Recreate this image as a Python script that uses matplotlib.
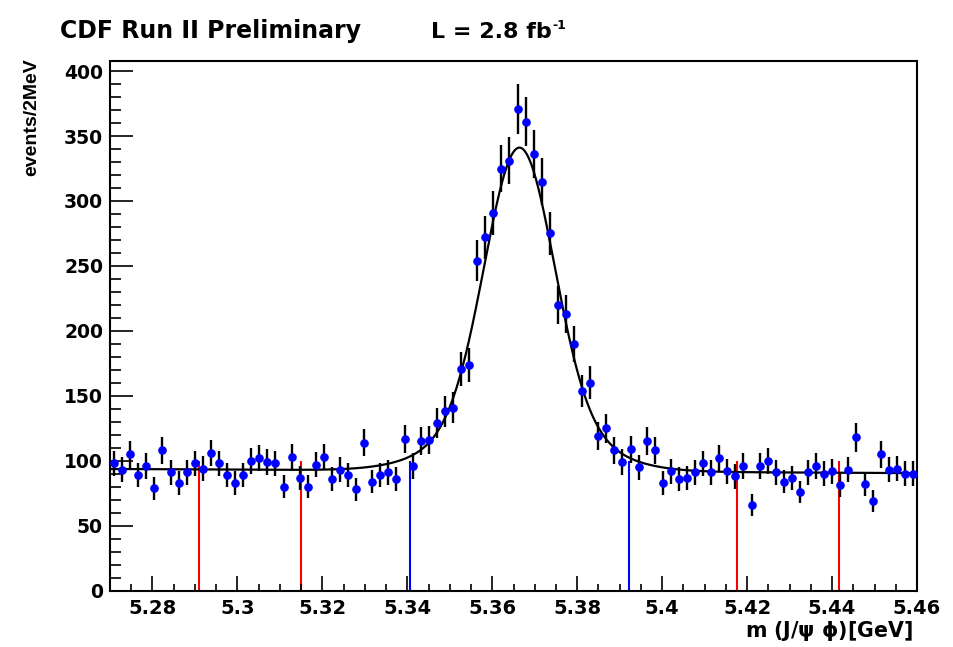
import numpy as np
import matplotlib.pyplot as plt
from matplotlib.ticker import MultipleLocator

plt.rcParams['font.family'] = 'DejaVu Sans'
plt.rcParams['font.weight'] = 'bold'
plt.rcParams['mathtext.default'] = 'bf'

# histogram: 100 bins between 5.27 and 5.46 GeV
m_lo = 5.27
m_hi = 5.46
nbins = 100
counts = [98, 93, 105, 89, 96, 79, 108, 91, 83, 91,
          98, 94, 106, 98, 89, 83, 89, 100, 102, 99,
          98, 80, 103, 87, 80, 97, 103, 86, 93, 89,
          78, 114, 84, 89, 91, 86, 117, 96, 115, 116,
          129, 138, 141, 171, 174, 254, 272, 291, 325, 331,
          371, 361, 336, 315, 275, 220, 213, 190, 154, 160,
          119, 125, 108, 99, 109, 95, 115, 108, 83, 92,
          86, 87, 91, 98, 91, 102, 92, 88, 96, 66,
          96, 100, 91, 84, 87, 76, 91, 96, 90, 92,
          81, 93, 118, 82, 69, 105, 93, 94, 90, 90]

# fit: double gaussian + linear background (parameters)
fit_mean = 5.3664
fit_a1, fit_sig1 = 207.0, 0.00805
fit_a2, fit_sig2 = 42.0, 0.0150
bkg_at_lo = 93.7
bkg_slope = -16.8  # per GeV

# sideband (red) and signal window (blue) markers
red_lines = [5.2910, 5.3150, 5.4176, 5.4416]
blue_lines = [5.3407, 5.3921]
line_height = 100

xticks = [5.28, 5.30, 5.32, 5.34, 5.36, 5.38, 5.40, 5.42, 5.44, 5.46]
xtick_labels = ['5.28', '5.3', '5.32', '5.34', '5.36', '5.38', '5.4', '5.42', '5.44', '5.46']
yticks = [0, 50, 100, 150, 200, 250, 300, 350, 400]
ytick_labels = ['0', '50', '100', '150', '200', '250', '300', '350', '400']

edges = np.linspace(m_lo, m_hi, nbins + 1)
centers = 0.5 * (edges[:-1] + edges[1:])
counts = np.array(counts, dtype=float)
errors = np.sqrt(counts)

xf = np.linspace(m_lo, m_hi, 1000)
fit = (fit_a1 * np.exp(-0.5 * ((xf - fit_mean) / fit_sig1) ** 2)
       + fit_a2 * np.exp(-0.5 * ((xf - fit_mean) / fit_sig2) ** 2)
       + bkg_at_lo + bkg_slope * (xf - m_lo))

fig = plt.figure(figsize=(9.54, 6.47), dpi=100)
ax = fig.add_axes([110 / 954, 1 - 590.7 / 647, (917 - 110) / 954, (590.7 - 60.7) / 647])

ax.vlines(red_lines, 0, line_height, color='red', lw=1.5, zorder=1)
ax.vlines(blue_lines, 0, line_height, color='blue', lw=1.5, zorder=1)
ax.plot(xf, fit, color='black', lw=1.6, zorder=2)
ax.errorbar(centers, counts, yerr=errors, fmt='o', color='blue', ms=5.2,
            ecolor='black', elinewidth=1.7, capsize=0, zorder=3)

ax.set_xlim(m_lo, m_hi)
ax.set_ylim(0, 408)
ax.set_xticks(xticks)
ax.set_xticklabels(xtick_labels)
ax.set_yticks(yticks)
ax.set_yticklabels(ytick_labels)
ax.xaxis.set_minor_locator(MultipleLocator(0.005))
ax.yaxis.set_minor_locator(MultipleLocator(10))
ax.tick_params(axis='x', which='major', direction='in', length=10.8, width=1.2,
               labelsize=14, pad=6)
ax.tick_params(axis='x', which='minor', direction='in', length=5, width=1.2)
ax.tick_params(axis='y', which='major', direction='in', length=16.3, width=1.2,
               labelsize=13.5, pad=5)
ax.tick_params(axis='y', which='minor', direction='in', length=8.2, width=1.2)
for s in ax.spines.values():
    s.set_linewidth(1.5)

fig.text(60 / 954, 1 - 38.3 / 647, 'CDF Run II Preliminary', fontsize=17,
         fontweight='bold', va='baseline', ha='left')
fig.text(552 / 954, 1 - 38.3 / 647, 'L = 2.8 fb', fontsize=16,
         fontweight='bold', va='baseline', ha='right')
fig.text(552 / 954, 1 - 29 / 647, '-1', fontsize=9,
         fontweight='bold', va='baseline', ha='left')
fig.text(913 / 954, 1 - 636.7 / 647, r'm (J/$\psi$ $\phi$)[GeV]', fontsize=14.8,
         fontweight='bold', va='baseline', ha='right')
fig.text(32 / 954, 1 - 58 / 647, 'events/2MeV', family='Liberation Sans',
         fontsize=14, fontweight='bold', rotation=90, va='top', ha='center')

fig.savefig('out.png', dpi=100)
